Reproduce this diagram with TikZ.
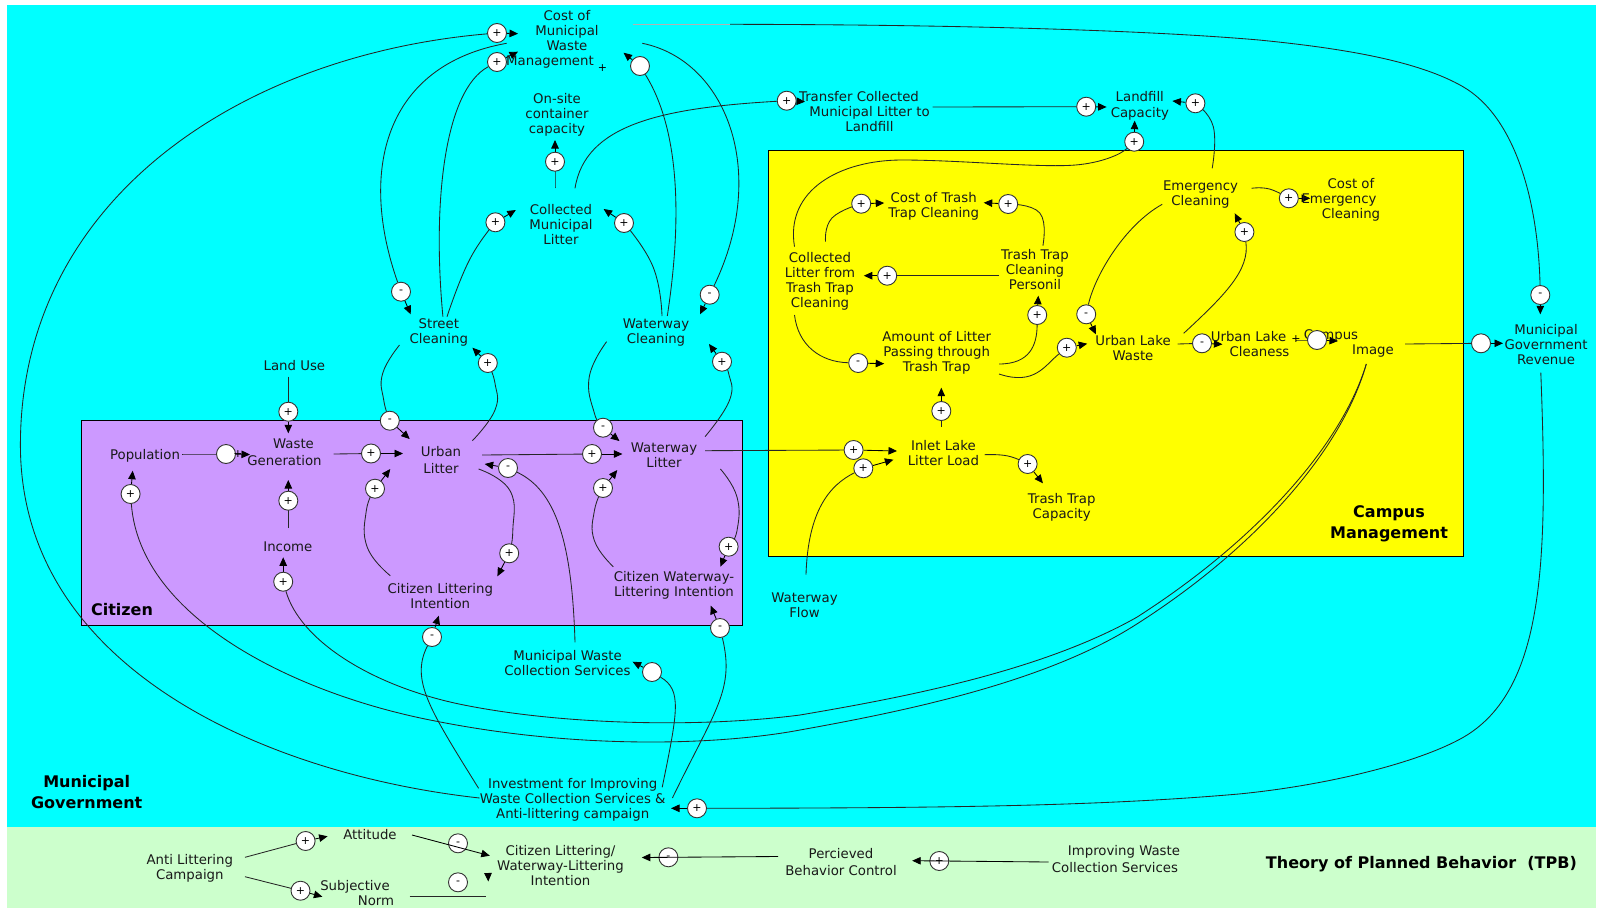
\documentclass[tikz,border=0pt]{standalone}
\usepackage{fontspec}
\setmainfont{DejaVu Sans}
\usetikzlibrary{arrows.meta}
\pgfdeclarelayer{back}
\pgfdeclarelayer{wires}
\pgfsetlayers{back,wires,main}
\definecolor{seacyan}{HTML}{00FFFF}
\definecolor{palegreen}{HTML}{CCFFCC}
\definecolor{lilac}{HTML}{CC99FF}
\definecolor{sunny}{HTML}{FFFF00}
\tikzset{
 lbl/.style={inner sep=0pt,align=center,yshift=-1pt,text=black!90,font=\fontsize{13.3}{15}\selectfont},
 head/.style={inner sep=0pt,align=center,text=black,font=\fontsize{16}{21}\selectfont\bfseries},
 sgn/.style={circle,draw=black!80,fill=white,line width=.9pt,minimum size=19pt,inner sep=0pt,font=\fontsize{11}{11}\selectfont},
 wire/.style={draw=black!85,line width=.85pt},
 wiretip/.style={draw=black,line width=.85pt,-{Triangle[length=8.5pt,width=7.5pt]}},
 tiny/.style={inner sep=0pt,font=\fontsize{11}{11}\selectfont}
}
% name, position, sign, source, via points, arrow tip
\newcommand{\causal}[6]{%
 \node[sgn] (#1) at (#2) {#3};
 \coordinate (#1s) at (#4);
 \coordinate (#1t) at (#6);
 \begin{pgfonlayer}{wires}
 \draw[wire] plot[smooth,tension=.8] coordinates {(#1s) #5 (#1)};
 \draw[wiretip] (#1) -- (#1t);
 \end{pgfonlayer}}
% name, position, sign, source, bezier pieces ending in control points, arrow tip
\newcommand{\causalb}[6]{%
 \node[sgn] (#1) at (#2) {#3};
 \coordinate (#1s) at (#4);
 \coordinate (#1t) at (#6);
 \begin{pgfonlayer}{wires}
 \draw[wire] (#1s) #5 .. (#1);
 \draw[wiretip] (#1) -- (#1t);
 \end{pgfonlayer}}
\begin{document}
\begin{tikzpicture}[x=1pt,y=-1pt]
\useasboundingbox (0,0) rectangle (1601,908);
\begin{pgfonlayer}{back}
 \fill[seacyan] (7,5) rectangle (1596,827);
 \fill[palegreen] (7,827) rectangle (1596,908);
 \filldraw[fill=lilac,draw=black,line width=.8pt] (81.6,420.7) rectangle (742,625.3);
 \filldraw[fill=sunny,draw=black,line width=.8pt] (768,150.3) rectangle (1463,556.7);
\end{pgfonlayer}
% region headings
\node[head] (hmun) at (86.7,792.5) {Municipal\\Government};
\node[head] (hcit) at (122,609.7) {Citizen};
\node[head] (hcam) at (1389,524) {Campus\\Management};
\node[head] (htpb) at (1421.4,864) {Theory of Planned Behavior\ \ (TPB)};
% variables
\node[lbl] (costmun) at (567,38) {Cost of\\Municipal\\Waste\\Management\hspace*{34pt}};
\node[tiny] (pmgmt) at (602.6,68) {+};
\node[lbl] (onsite) at (557,113.7) {On-site\\container\\capacity};
\node[lbl] (collmun) at (561,224) {Collected\\Municipal\\Litter};
\node[lbl] (street) at (438.8,331) {Street\\Cleaning};
\node[lbl] (wwclean) at (656,332) {Waterway\\Cleaning};
\node[lbl] (landuse) at (294.4,364.3) {Land Use};
\node[lbl] (wastegen) at (284.5,451) {\hspace*{18pt}Waste\\[2pt]Generation};
\node[lbl] (urban) at (441,459.5) {Urban\\[2pt]Litter};
\node[lbl] (wwlitter) at (664,454.5) {Waterway\\Litter};
\node[lbl] (popul) at (145,454.4) {Population};
\node[lbl] (income) at (287.8,545.3) {Income};
\node[lbl] (citlit) at (440.3,594.8) {Citizen Littering\\Intention};
\node[lbl] (citww) at (674,584.3) {Citizen Waterway-\\Littering Intention};
\node[lbl] (muncoll) at (567.5,661.8) {Municipal Waste\\Collection Services};
\node[lbl] (invest) at (572.7,799.3) {Investment for Improving\\Waste Collection Services \&\\Anti-littering campaign};
\node[lbl] (wwflow) at (804.5,604) {Waterway\\Flow};
\node[lbl] (transfer) at (869.5,110.8) {Transfer Collected\hspace*{21pt}\\Municipal Litter to\\Landfill};
\node[lbl] (landfill) at (1139.8,104.7) {Landfill\\[1pt]Capacity};
\node[lbl] (emerg) at (1200.5,193.2) {Emergency\\Cleaning};
\node[lbl] (costem) at (1339,199) {\hspace*{24pt}Cost of\\Emergency\\\hspace*{24pt}Cleaning};
\node[lbl] (costtt) at (933.7,205.8) {Cost of Trash\\Trap Cleaning};
\node[lbl] (ttperson) at (1035,268.3) {Trash Trap\\Cleaning\\Personil};
\node[lbl] (colltt) at (820,280.3) {Collected\\Litter from\\Trash Trap\\Cleaning};
\node[lbl] (amount) at (936.7,352) {Amount of Litter\\Passing through\\Trash Trap};
\node[lbl] (ulwaste) at (1133,347.3) {Urban Lake\\Waste};
\node[lbl] (ulclean) at (1254,343.5) {Urban Lake\hspace*{11pt}\\\hspace*{11pt}Cleaness};
\node[tiny] (pulc) at (1296,339) {+};
\node[lbl] (campus) at (1352,342.3) {Campus\hspace*{42pt}\\\hspace*{42pt}Image};
\node[lbl] (inlet) at (943.4,451.8) {Inlet Lake\\Litter Load};
\node[lbl] (ttcap) at (1061.7,506.5) {Trash Trap\\Capacity};
\node[lbl] (revenue) at (1546,343.8) {Municipal\\Government\\Revenue};
% TPB labels
\node[lbl] (anti) at (189.8,867.5) {Anti Littering\\Campaign};
\node[lbl] (attitude) at (370,833.3) {Attitude};
\node[lbl] (subj) at (355,892) {Subjective\hspace*{0pt}\\\hspace*{42pt}Norm};
\node[lbl] (intent) at (560.5,865) {Citizen Littering/\\Waterway-Littering\\Intention};
\node[lbl] (perc) at (841,861) {Percieved\\[2pt]Behavior Control};
\node[lbl] (improv) at (1115,858) {\hspace*{18pt}Improving Waste\\[2pt]Collection Services};
% causal links
\causalb{a1}{497,33}{+}{479.6,798}{.. controls (270,775) and (20.4,670) .. (20.4,445) .. controls (20.4,200) and (240,55)}{518,33.7}
\causalb{a2}{497,62}{+}{442.9,316.7}{.. controls (432,200) and (445,90)}{518,51.7}
\causalb{a3}{640,66}{}{667.3,316}{.. controls (682,220) and (680,130)}{623.5,52.7}
\causal{a4}{555,161.7}{+}{555,188.3}{}{555,140}
\causalb{a5}{786.7,100.7}{+}{575,188.3}{.. controls (585,125) and (660,108)}{805,101.7}
\causal{a6}{495.4,222.3}{+}{447,316.7}{(469.4,260)}{515.8,210}
\causal{a7}{624,223}{+}{662,316}{(653,266.7)}{603.6,209}
\causalb{a8}{401,291.7}{-}{506.6,43.3}{.. controls (385,65) and (358,170)}{410.7,314.3}
\causalb{a9}{709.7,294.7}{-}{642.3,43.3}{.. controls (725,60) and (770,170)}{700,314.3}
\causal{a10}{487.8,363}{+}{472.4,440.7}{(495,410) (495,383.3)}{472.4,347.7}
\causal{a11}{722,361.7}{+}{705,436.7}{(729.6,400) (728.6,373.3)}{709,344}
\causal{a12}{288.3,411.7}{+}{288.3,376.7}{}{288.3,433.3}
\causal{a13}{389.8,420.7}{-}{399.5,345}{(382.7,373.3) (383.7,400)}{409.7,439}
\causal{a14}{603,427.7}{-}{606.6,341.7}{(589.3,376.7) (594.4,413.3)}{619.4,441}
\causal{a15}{226,454}{}{182,454}{}{250,454.5}
\node[tiny] (pwg) at (238,454) {+};
\causal{a16}{371,453.5}{+}{333.7,454}{}{403,453.5}
\causal{a17}{592,454}{+}{482,455}{}{622.4,454}
\causal{a18}{853.6,450}{+}{705,450.7}{}{897,451}
\causalb{a19}{863.3,468.3}{+}{806,574.7}{.. controls (808,510) and (830,485)}{893.4,459.7}
\causal{a20}{1027.6,464}{+}{984.7,454.7}{(1008,456)}{1042.9,483.3}
\causal{a21}{941.3,411}{+}{941.3,426.7}{}{941.3,387.7}
\causal{a22}{1086.2,106.7}{+}{932.7,107}{}{1106.6,107}
\causal{a23}{1195.4,103.3}{+}{1212.2,168.3}{(1213.3,126.7)}{1172.4,101}
\causalb{a24}{1134.2,141.7}{+}{794.5,246.7}{.. controls (785,190) and (840,160) .. (902,160) .. controls (960,160) and (1040,168) .. (1075.5,165) .. controls (1100,163) and (1120,155)}{1134.7,120.7}
\causal{a25}{861.2,203.7}{+}{825.5,241.7}{(832,218)}{884.2,203}
\causalb{a26}{858.2,363}{-}{794.5,315}{.. controls (798,345) and (820,362)}{884.2,363.7}
\causal{a27}{1008.2,204}{+}{1042.9,245.7}{(1039.8,213)}{983.7,202.7}
\causal{a28}{887.2,275.7}{+}{999,275.7}{}{863.8,275.7}
\causalb{a29}{1037.2,315}{+}{999,364}{.. controls (1030,364) and (1037,345)}{1038.3,295.7}
\causalb{a30}{1066.8,347.7}{+}{999,374}{.. controls (1035,386) and (1045,365)}{1087.2,343.7}
\causalb{a31}{1086.2,314.3}{-}{1162.2,204.3}{.. controls (1125,225) and (1095,275)}{1095.9,334.3}
\causalb{a32}{1244.4,232}{+}{1183.7,333.3}{.. controls (1225,295) and (1250,270)}{1234.7,213.3}
\causal{a33}{1202,343.3}{-}{1177.6,344}{}{1222.4,344.3}
\causal{a34}{1317,340}{}{1296,340}{}{1338,341}
\causal{a35}{1288.8,198.3}{+}{1251.5,188.3}{(1269.4,189)}{1310.2,198.3}
\causal{a36}{1481,343.3}{}{1405,344}{}{1503,343.3}
\causalb{a37}{1540.3,295}{-}{730,24.3}{.. controls (900,24.5) and (1120,28) .. (1259,40) .. controls (1350,49) and (1420,62) .. (1463,86.7) .. controls (1515,117) and (1538,200)}{1540.3,314.3}
\begin{pgfonlayer}{wires}
\coordinate (a37f) at (632.6,24.3);
\draw[black!30,line width=.5pt] (a37f) -- (a37s);
\end{pgfonlayer}
\causalb{a38}{697,808.3}{+}{1540.8,372.7}{.. controls (1548,560) and (1545,690) .. (1463.3,737.3) .. controls (1420,762) and (1330,785) .. (1238.8,794) .. controls (1100,806) and (950,808)}{671,808.3}
\causalb{a39}{283.2,581.7}{+}{1366.3,364}{.. controls (1340,450) and (1250,545) .. (1136.7,617.3) .. controls (1040,672) and (900,698) .. (800,715) .. controls (700,728) and (560,725) .. (459,704) .. controls (370,685) and (300,640)}{283.2,557.3}
\causalb{a40}{130.6,494}{+}{1366.3,364}{.. controls (1342,450) and (1255,550) .. (1131.6,627.3) .. controls (1040,684) and (900,712) .. (800,730) .. controls (720,745) and (580,750) .. (433.7,720.7) .. controls (300,695) and (140,620)}{132.7,470.7}
\causalb{a41}{508,468}{-}{575,642.3}{.. controls (572,540) and (555,490)}{484.7,464}
\causal{a42}{288.3,500.7}{+}{288.3,528}{}{288.3,480}
\causal{a43}{375,488.7}{+}{390.3,575.7}{(367.3,547.3) (366.3,510.7)}{390.3,469}
\causal{a44}{603,488}{+}{613.3,566.7}{(594.4,540.7) (594.4,510.7)}{617.3,470}
\causal{a45}{509.2,553.3}{+}{478.6,469}{(510,490.7) (512.8,530.7)}{497.4,576.3}
\causal{a46}{728.6,546.7}{+}{720.4,469}{(737,497) (737,530.7)}{720.4,566.7}
\causalb{a47}{432,637}{-}{478.6,788.3}{.. controls (430,710) and (410,680)}{438.8,615.7}
\causalb{a48}{720,628}{-}{672.4,798}{.. controls (715,710) and (735,690)}{710.7,605.7}
\causalb{a49}{652,672}{}{662.2,787.3}{.. controls (678,710) and (682,690)}{632.6,661.7}
\causal{b1}{305.6,841}{+}{245,857.3}{}{327.6,836.3}
\causal{b2}{300.5,890.7}{+}{245,876.7}{}{322.4,896.7}
% TPB links drawn across their markers
\node[sgn] (b3) at (458,843.3) {-};
\coordinate (b3s) at (412,835); \coordinate (b3t) at (489.8,855.7);
\draw[wiretip] (b3s) -- (b3t);
\node[sgn] (b4) at (458,882.3) {-};
\coordinate (b4s) at (409.7,896.7); \coordinate (b4e) at (485.7,896.7);
\draw[wire] (b4s) -- (b4e);
\coordinate (b4a) at (488,873); \coordinate (b4t) at (488.3,881.5);
\draw[wiretip] (b4a) -- (b4t);
\node[sgn] (b5) at (668.4,857.3) {-};
\coordinate (b5s) at (778,856.5); \coordinate (b5t) at (641.8,857.5);
\draw[wiretip] (b5s) -- (b5t);
\node[sgn] (b6) at (939.3,861) {+};
\coordinate (b6s) at (1048.5,862); \coordinate (b6t) at (912.2,860.7);
\draw[wiretip] (b6s) -- (b6t);
\end{tikzpicture}
\end{document}
